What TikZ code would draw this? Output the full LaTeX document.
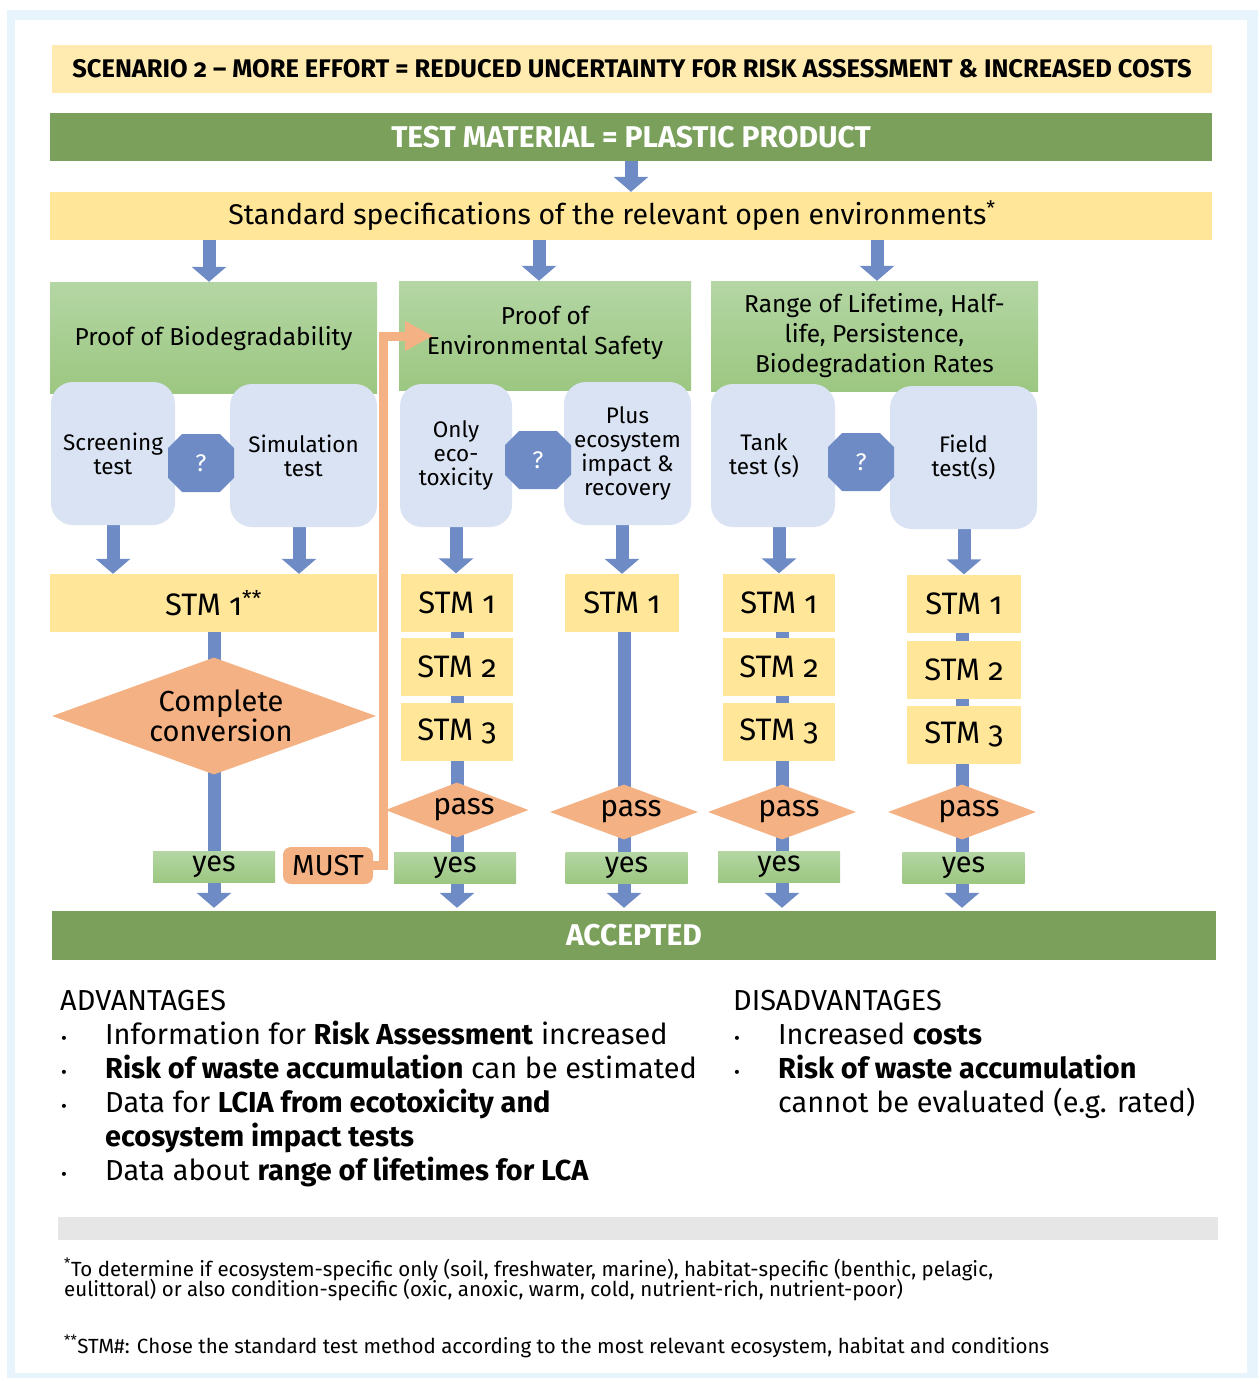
\documentclass[tikz,border=0pt]{standalone}
\usepackage{fontspec}
\setmainfont{Fira Sans}[Numbers=OldStyle]
\usetikzlibrary{shapes.geometric,shapes.misc,arrows.meta,backgrounds,positioning}

\definecolor{framebl}{HTML}{E8F4FC}
\definecolor{headyel}{HTML}{FFEBB0}
\definecolor{stmyel}{HTML}{FFE699}
\definecolor{darkgrn}{HTML}{7BA05B}
\definecolor{grntop}{HTML}{B4D6A4}
\definecolor{grnbot}{HTML}{9CC781}
\definecolor{flowblue}{HTML}{6E8BC6}
\definecolor{testbl}{HTML}{DAE3F3}
\definecolor{orng}{HTML}{F4B183}
\definecolor{footgray}{HTML}{E6E6E6}

\tikzset{
  bar/.style={minimum height=48pt, inner sep=0pt},
  grnbox/.style={top color=grntop, bottom color=grnbot, inner sep=0pt, align=center,
    font=\fontsize{24.5}{30}\selectfont},
  testbox/.style={fill=testbl, rounded corners=22pt, inner sep=0pt, align=center,
    minimum height=143pt, font=\fontsize{22.5}{24}\selectfont},
  stmbox/.style={fill=stmyel, minimum width=112pt, minimum height=58pt, inner sep=0pt,
    font=\fontsize{31}{34}\selectfont},
  passdia/.style={diamond, fill=orng, shape aspect=2.7, minimum width=148pt,
    minimum height=55pt, inner sep=0pt, font=\fontsize{30}{32}\selectfont},
  yesbox/.style={top color=grntop, bottom color=grnbot, minimum width=122pt,
    minimum height=31pt, inner sep=0pt, font=\fontsize{29}{30}\selectfont},
  qmark/.style={chamfered rectangle, chamfered rectangle xsep=17pt,
    chamfered rectangle ysep=15pt, fill=flowblue, text=white, inner sep=0pt,
    minimum width=66pt, minimum height=58pt, font=\fontsize{24}{26}\selectfont},
  pipe/.style={draw=flowblue, line width=13pt},
  downarrow/.style={pipe, -{Triangle[width=34pt,length=15pt]}},
  orngline/.style={draw=orng, line width=9pt, -{Triangle[width=28pt,length=28pt]}},
  advtext/.style={anchor=base west, inner sep=0pt, font=\fontsize{28.9}{32}\selectfont},
  bullet/.style={anchor=base, inner sep=0pt, font=\fontsize{18}{20}\selectfont},
  foottext/.style={anchor=base west, inner sep=0pt, font=\fontsize{20.5}{22}\selectfont}
}

\begin{document}
\begin{tikzpicture}[x=1pt,y=-1pt]
\useasboundingbox (0,0) rectangle (1258,1378);

% top bars
\node[bar, fill=headyel, minimum width=1160pt, font=\bfseries\fontsize{25.5}{28}\selectfont] (title) at (632,69)
  {SCENARIO 2 -- MORE EFFORT = REDUCED UNCERTAINTY FOR RISK ASSESSMENT \& INCREASED COSTS};
\node[bar, fill=darkgrn, text=white, minimum width=1162pt, font=\bfseries\fontsize{30}{32}\selectfont] (test) at (631,137)
  {TEST MATERIAL = PLASTIC PRODUCT};
\node[bar, fill=stmyel, minimum width=1162pt, font=\fontsize{28.5}{30}\selectfont] (spec) at (631,216)
  {\hspace*{-38pt}Standard specifications of the relevant open environments\textsuperscript{*}};

% three goals
\node[grnbox, minimum width=327pt, minimum height=111pt] (bio) at (213.5,337.5) {Proof of Biodegradability\\[-26pt]};
\node[grnbox, minimum width=292pt, minimum height=109pt] (env) at (545,335.5) {Proof of\\Environmental Safety\\[-20pt]};
\node[grnbox, minimum width=327pt, minimum height=110pt] (range) at (874.5,336)
  {Range of Lifetime, Half-\\life, Persistence,\\Biodegradation Rates};

% test options
\node[testbox, minimum width=124pt] (screen) at (113,453.5) {Screening\\test};
\node[testbox, minimum width=147pt] (simul) at (303.5,455.5) {Simulation\\test};
\node[testbox, minimum width=112pt] (onlyeco) at (456,455.5) {Only\\eco-\\toxicity};
\node[testbox, minimum width=127pt] (plus) at (627.5,453.5) {Plus\\ecosystem\\impact \&\\recovery};
\node[testbox, minimum width=124pt] (tank) at (773,455.5) {\hspace*{-18pt}Tank\\\hspace*{-18pt}test (s)};
\node[testbox, minimum width=147pt] (field) at (963.5,457.5) {Field\\test(s)};
\node[qmark] (q1) at (201,463) {?};
\node[qmark] (q2) at (538,460) {?};
\node[qmark] (q3) at (861,462) {?};

% standard test methods
\node[stmbox, minimum width=327pt] (stmA) at (213.5,603) {STM 1\textsuperscript{**}};
\node[stmbox] (stm21) at (457,602.5) {STM 1};
\node[stmbox] (stm22) at (457,667) {STM 2};
\node[stmbox] (stm23) at (457,731.5) {STM 3};
\node[stmbox, minimum width=114pt] (stm31) at (622,603) {STM 1};
\node[stmbox] (stm41) at (779,602.5) {STM 1};
\node[stmbox] (stm42) at (779,667) {STM 2};
\node[stmbox] (stm43) at (779,731.5) {STM 3};
\node[stmbox, minimum width=114pt] (stm51) at (964,603.5) {STM 1};
\node[stmbox, minimum width=114pt] (stm52) at (964,670) {STM 2};
\node[stmbox, minimum width=114pt] (stm53) at (964,734.5) {STM 3};

% decisions
\node[passdia, shape aspect=2.77, minimum width=324pt, minimum height=117pt, align=center,
  font=\fontsize{29}{30}\selectfont] (conv) at (214,716) {\hspace*{14pt}Complete\\\hspace*{14pt}conversion};
\node[passdia, minimum width=143pt] (pass2) at (457,810) {\hspace*{14pt}pass};
\node[passdia] (pass3) at (624,812) {\hspace*{14pt}pass};
\node[passdia] (pass4) at (782,812) {\hspace*{14pt}pass};
\node[passdia] (pass5) at (962,812) {\hspace*{14pt}pass};

\node[yesbox] (yes1) at (214,867) {yes};
\node[yesbox] (yes2) at (455,867.5) {yes};
\node[yesbox] (yes3) at (626.5,867.5) {yes};
\node[yesbox] (yes4) at (779,866.5) {yes};
\node[yesbox] (yes5) at (963.5,867.5) {yes};
\node[fill=orng, rounded corners=8pt, minimum width=90pt, minimum height=37pt, inner sep=0pt,
  font=\fontsize{29}{30}\selectfont] (must) at (328,865.5) {MUST};

\node[bar, fill=darkgrn, text=white, minimum width=1164pt, minimum height=49pt,
  font=\bfseries\fontsize{30}{32}\selectfont] (accepted) at (634,935.5) {ACCEPTED};

% frame and flow lines behind
\begin{scope}[on background layer]
  \fill[framebl] (7,10) rectangle (1258,1378);
  \fill[white] (15,20) rectangle (1247,1373);
  \draw[downarrow] (test.south) -- (spec.north);
  \draw[downarrow] (spec.south -| 209,0) -- (bio.north -| 209,0);
  \draw[downarrow] (spec.south -| 539,0) -- (env.north -| 539,0);
  \draw[downarrow] (spec.south -| 877,0) -- (range.north -| 877,0);
  \draw[downarrow] (screen.south) -- (screen.south |- stmA.north);
  \draw[downarrow] (simul.south -| 299,0) -- (stmA.north -| 299,0);
  \draw[downarrow] (onlyeco.south) -- (stm21.north -| onlyeco.south);
  \draw[downarrow] (plus.south -| stm31) -- (stm31.north);
  \draw[downarrow] (tank.south -| stm41) -- (stm41.north);
  \draw[downarrow] (field.south -| stm51) -- (stm51.north);
  \draw[downarrow, shorten >=3pt] (conv |- stmA.south) -- (conv |- accepted.north);
  \draw[downarrow, shorten >=3pt] (stm21.south) -- (stm21.south |- accepted.north);
  \draw[downarrow, shorten >=3pt] (pass3 |- stm31.south) -- (pass3 |- accepted.north);
  \draw[downarrow, shorten >=3pt] (pass4 |- stm41.south) -- (pass4 |- accepted.north);
  \draw[downarrow, shorten >=3pt] (pass5 |- stm51.south) -- (pass5 |- accepted.north);
\end{scope}

% MUST leads to environmental safety
\coordinate (envin) at (433,336);
\draw[orngline] (must.east) -- ++(10,0) |- (envin);

% advantages
\node[advtext] (advhead) at (60,1010) {ADVANTAGES};
\foreach \y/\nm in {1044/a1,1078/a2,1112/a3,1180/a5}
  \node[bullet] (bul\nm) at (64,\y) {\textbullet};
\node[advtext] (adv1) at (105,1044) {Information for \textbf{Risk Assessment} increased};
\node[advtext] (adv2) at (105,1078) {\textbf{Risk of waste accumulation} can be estimated};
\node[advtext] (adv3) at (105,1112) {Data for \textbf{LCIA from ecotoxicity and}};
\node[advtext] (adv4) at (105,1146) {\textbf{ecosystem impact tests}};
\node[advtext] (adv5) at (105,1180) {Data about \textbf{range of lifetimes for LCA}};

% disadvantages
\node[advtext] (dishead) at (733,1010) {DISADVANTAGES};
\foreach \y/\nm in {1044/d1,1078/d2}
  \node[bullet] (bul\nm) at (737,\y) {\textbullet};
\node[advtext] (dis1) at (778,1044) {Increased \textbf{costs}};
\node[advtext] (dis2) at (778,1078) {\textbf{Risk of waste accumulation}};
\node[advtext] (dis3) at (778,1112) {cannot be evaluated (e.g. rated)};

% footnotes
\fill[footgray] (58,1217) rectangle (1218,1240);
\node[foottext] (foot1) at (64,1276) {\textsuperscript{*}To determine if ecosystem-specific only (soil, freshwater, marine), habitat-specific (benthic, pelagic,};
\node[foottext] (foot2) at (64,1296) {eulittoral) or also condition-specific (oxic, anoxic, warm, cold, nutrient-rich, nutrient-poor)};
\node[foottext] (foot3) at (64,1353) {\textsuperscript{**}STM\#: Chose the standard test method according to the most relevant ecosystem, habitat and conditions};
\end{tikzpicture}
\end{document}
